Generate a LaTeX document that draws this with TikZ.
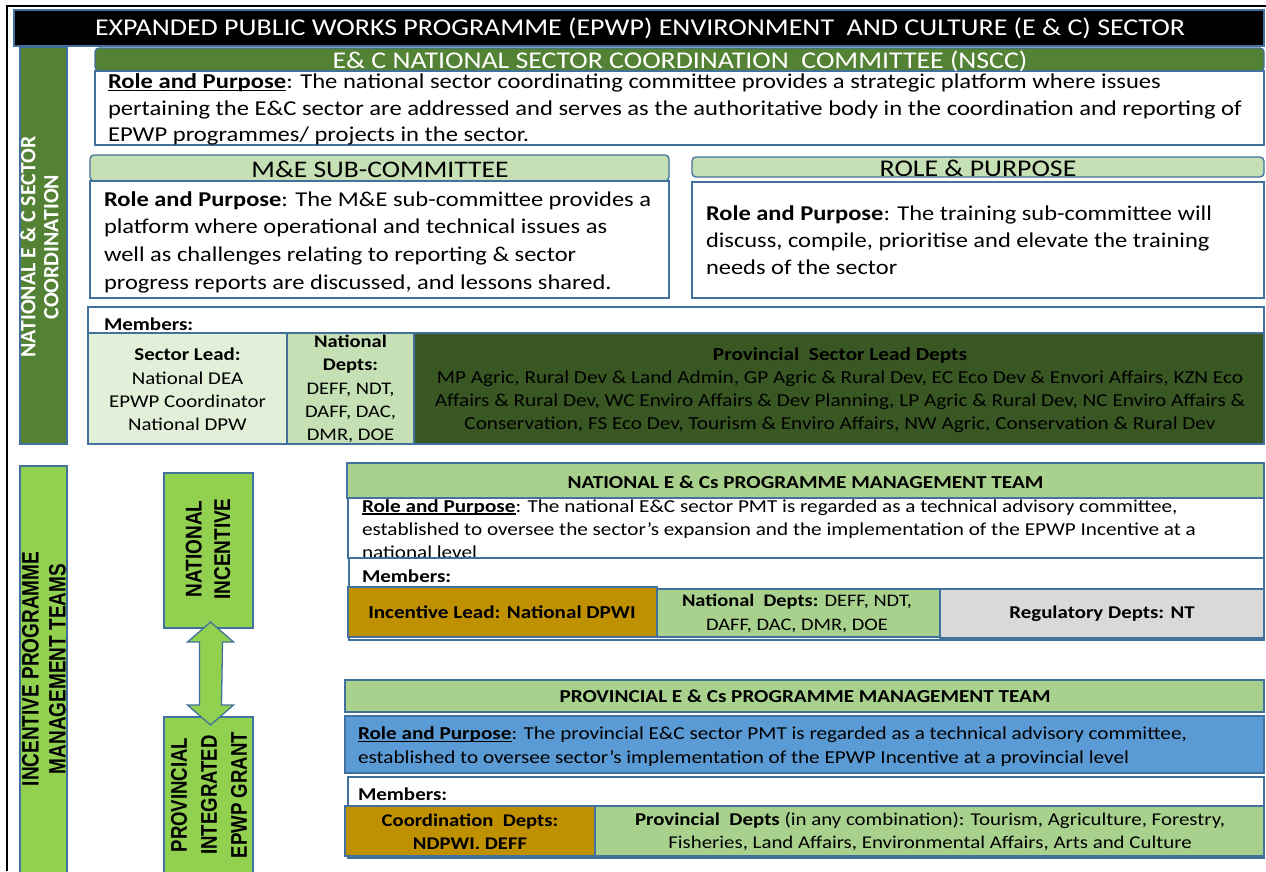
\documentclass[tikz,border=0pt]{standalone}
\usepackage{fontspec}
\setmainfont[FakeStretch=1.16]{Carlito}
\newfontfamily\rfont{Carlito}
\newfontfamily\vfont{Liberation Sans}
\usetikzlibrary{calc}
\definecolor{bordc}{HTML}{41719C}
\definecolor{dgreen}{HTML}{548235}
\definecolor{lgreen}{HTML}{C5E0B4}
\definecolor{vlgreen}{HTML}{E2F0D9}
\definecolor{provg}{HTML}{385723}
\definecolor{brgreen}{HTML}{92D050}
\definecolor{mgreen}{HTML}{A9D18E}
\definecolor{goldc}{HTML}{BF9000}
\definecolor{grayc}{HTML}{D9D9D9}
\definecolor{bluec}{HTML}{5B9BD5}
\newcommand\fs[2]{\fontsize{#1}{#2}\selectfont}
\newcommand\uln[1]{\leavevmode\setbox0=\hbox{#1}\rlap{\rule[-0.12em]{\wd0}{0.06em}}\box0}
\newcommand\mybox[6]{\node[#2,anchor=north west,inner sep=0pt,outer sep=0pt,minimum width={(#5-#3)*1pt},minimum height={(#6-#4)*1pt}] (#1) at (#3,#4) {};}
\tikzset{
  bx/.style={draw=bordc,line width=1.3pt},
  hdr/.style={bx,rounded corners=4pt},
  txt/.style={inner sep=0pt,outer sep=0pt,align=left,anchor=north west},
  ctxt/.style={inner sep=0pt,outer sep=0pt,align=center,anchor=center},
  arrowshape/.style={draw=bordc,line width=1.3pt,fill=brgreen,line join=miter}
}
\begin{document}
\begin{tikzpicture}[x=1pt,y=-1pt]
\useasboundingbox (0,0) rectangle (1266,871);
\fill[white] (0,0) rectangle (1266,871);
% outer frame
\draw[black,line width=2.2pt] (7,871) -- (7,6) -- (1266,6);
% title
\mybox{title}{bx,fill=black}{14}{10}{1264}{46}
\node[ctxt,text=white,font=\fs{24.1}{27}] (titletext) at (640,28.5) {EXPANDED PUBLIC WORKS PROGRAMME (EPWP) ENVIRONMENT\ \ AND CULTURE (E \& C) SECTOR};
% left bar 1
\mybox{bar1}{bx,fill=dgreen}{20}{47}{67}{444}
\node[ctxt,text=white,rotate=90,font=\rfont\bfseries\fs{21.8}{23}] (bar1text) at (39.5,247) {NATIONAL E \& C SECTOR\\COORDINATION};
% NSCC
\mybox{nsccbody}{bx,fill=white}{95}{71}{1264}{145}
\mybox{nscchead}{hdr,fill=dgreen}{95}{48}{1264}{71}
\draw[bordc,line width=1.3pt] (95,71) -- (1264,71);
\node[ctxt,text=white,font=\fs{24}{27}] (nsccheadtext) at (680,61.5) {E\& C NATIONAL SECTOR COORDINATION\ \ COMMITTEE (NSCC)};
\node[txt,font=\fs{21.2}{26.5}] (nscctext) at (108,74) {\uln{\textbf{Role and Purpose}}: The national sector coordinating committee provides a strategic platform where issues\\pertaining the E\&C sector are addressed and serves as the authoritative body in the coordination and reporting of\\EPWP programmes/ projects in the sector.};
% M&E
\mybox{mehead}{hdr,fill=lgreen}{90}{155}{669}{181}
\mybox{mebody}{bx,fill=white}{90}{181}{669}{298}
\node[ctxt,font=\fs{23.8}{27}] (meheadtext) at (380,169) {M\&E SUB-COMMITTEE};
\node[txt,font=\fs{21.1}{27.6}] (metext) at (104,191.5) {\textbf{Role and Purpose}: The M\&E sub-committee provides a\\platform where operational and technical issues as\\well as challenges relating to reporting \& sector\\progress reports are discussed, and lessons shared.};
% Training
\mybox{trhead}{hdr,fill=lgreen}{692}{157}{1264}{177}
\mybox{trbody}{bx,fill=white}{692}{182}{1264}{298}
\node[ctxt,font=\fs{24}{27}] (trheadtext) at (978,168.5) {ROLE \& PURPOSE};
\node[txt,font=\fs{21.1}{27}] (trtext) at (706,206) {\textbf{Role and Purpose}: The training sub-committee will\\discuss, compile, prioritise and elevate the training\\needs of the sector};
% Members 1
\mybox{mem1}{bx,fill=white}{88}{307}{1264}{444}
\node[txt,anchor=west,font=\bfseries\fs{18.1}{20}] (mem1text) at (104,324) {Members:};
\mybox{seclead}{bx,fill=vlgreen}{88}{333}{287}{444}
\mybox{natdepts}{bx,fill=lgreen}{287}{333}{414}{444}
\mybox{provlead}{bx,fill=provg}{414}{333}{1264}{444}
\node[ctxt,font=\fs{18}{23.3}] (secleadtext) at (187.5,389.5) {\textbf{Sector Lead:}\\National DEA\\EPWP Coordinator\\National DPW};
\node[ctxt,font=\fs{17.7}{23.2}] (natdeptstext) at (350.5,389) {\textbf{National}\\\textbf{Depts:}\\DEFF, NDT,\\DAFF, DAC,\\DMR, DOE};
\node[ctxt,font=\fs{18.3}{23}] (provleadtext) at (840,390) {\textbf{Provincial\ \ Sector Lead Depts}\\MP Agric, Rural Dev \& Land Admin, GP Agric \& Rural Dev, EC Eco Dev \& Envori Affairs, KZN Eco\\Affairs \& Rural Dev, WC Enviro Affairs \& Dev Planning, LP Agric \& Rural Dev, NC Enviro Affairs \&\\Conservation, FS Eco Dev, Tourism \& Enviro Affairs, NW Agric, Conservation \& Rural Dev};
% left bar 2
\mybox{bar2}{bx,fill=brgreen}{20}{466}{67}{875}
\begin{scope}[shift={(44,669)},rotate=90,yscale=1.25]
\node[ctxt,transform shape,font=\vfont\bfseries\fs{19}{21.5}] (bar2text) at (0,0) {INCENTIVE PROGRAMME\\MANAGEMENT TEAMS};
\end{scope}
% incentive boxes
\mybox{natinc}{bx,fill=brgreen}{164}{473}{253}{628}
\begin{scope}[shift={(208,549)},rotate=90,yscale=1.2]
\node[ctxt,transform shape,font=\vfont\bfseries\fs{19}{23.8}] (natinctext) at (0,0) {NATIONAL\\INCENTIVE};
\end{scope}
\mybox{provinc}{bx,fill=brgreen}{164}{717}{253}{875}
\begin{scope}[shift={(209,795)},rotate=90,yscale=1.22]
\node[ctxt,transform shape,font=\vfont\bfseries\fs{18.6}{24.6}] (provinctext) at (0,0) {PROVINCIAL\\INTEGRATED\\EPWP GRANT};
\end{scope}
% double arrow between them
\coordinate (atop) at ($(natinc.south)+(2,-6)$);
\coordinate (abot) at ($(provinc.north)+(2,8)$);
\draw[arrowshape] (atop) -- ++(23,20) -- ++(-11,0) -- ($(abot)+(11,-20)$) -- ++(12,0) -- (abot) -- ++(-23,-20) -- ++(12,0) -- ($(atop)+(-11,20)$) -- ++(-12,0) -- cycle;
% National PMT
\mybox{npmtbody}{bx,fill=white}{348}{498}{1264}{558}
\node[txt,font=\fs{18.25}{23.3}] (npmttext) at (362,499.5) {\uln{\textbf{Role and Purpose}}: The national E\&C sector PMT is regarded as a technical advisory committee,\\established to oversee the sector’s expansion and the implementation of the EPWP Incentive at a\\national level};
\mybox{npmthead}{bx,fill=mgreen}{347}{463}{1264}{498}
\node[ctxt,font=\bfseries\fs{18.3}{20}] (npmtheadtext) at (805.5,482) {NATIONAL E \& Cs PROGRAMME MANAGEMENT TEAM};
\mybox{mem2}{bx,fill=white}{349}{558}{1264}{640}
\node[txt,anchor=west,font=\bfseries\fs{18.1}{20}] (mem2text) at (362,576) {Members:};
\mybox{inclead}{bx,fill=goldc}{348}{587}{657}{637}
\mybox{natdepts2}{bx,fill=mgreen}{657}{589}{940}{637}
\mybox{regdepts}{bx,fill=grayc}{940}{589}{1264}{638}
\node[ctxt,font=\bfseries\fs{18.2}{22}] (incleadtext) at (502,612) {Incentive Lead: National DPWI};
\node[ctxt,font=\fs{17.6}{23.5}] (natdepts2text) at (797,613.5) {\textbf{National\ \ Depts:} DEFF, NDT,\\DAFF, DAC, DMR, DOE};
\node[ctxt,font=\bfseries\fs{18}{22}] (regdeptstext) at (1102,614) {Regulatory Depts: NT};
% Provincial PMT
\mybox{ppmthead}{bx,fill=mgreen}{345}{680}{1264}{712}
\node[ctxt,font=\bfseries\fs{18.25}{20}] (ppmtheadtext) at (805,696) {PROVINCIAL E \& Cs PROGRAMME MANAGEMENT TEAM};
\mybox{ppmtbody}{bx,fill=bluec}{345}{716}{1264}{773}
\node[txt,font=\fs{18.25}{23.5}] (ppmttext) at (358,727) {\uln{\textbf{Role and Purpose}}: The provincial E\&C sector PMT is regarded as a technical advisory committee,\\established to oversee sector’s implementation of the EPWP Incentive at a provincial level};
\mybox{mem3}{bx,fill=white}{348}{777}{1264}{858}
\node[txt,anchor=west,font=\bfseries\fs{18.1}{20}] (mem3text) at (358,794) {Members:};
\mybox{coord}{bx,fill=goldc}{345}{806}{595}{856}
\mybox{provdepts}{bx,fill=mgreen}{595}{806}{1264}{856}
\node[ctxt,font=\bfseries\fs{17.8}{22.5}] (coordtext) at (470,832) {Coordination\ \ Depts:\\NDPWI. DEFF};
\node[ctxt,font=\fs{18}{23}] (provdeptstext) at (930,832) {\textbf{Provincial\ \ Depts} (in any combination): Tourism, Agriculture, Forestry,\\Fisheries, Land Affairs, Environmental Affairs, Arts and Culture};
\end{tikzpicture}
\end{document}
